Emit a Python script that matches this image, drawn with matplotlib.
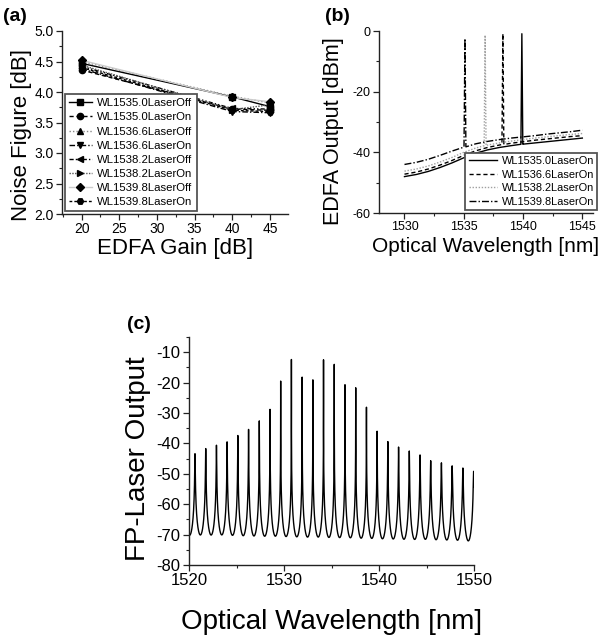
import numpy as np
import matplotlib
matplotlib.use("Agg")
import matplotlib.pyplot as plt
from matplotlib.ticker import MultipleLocator, FormatStrFormatter

plt.rcParams['font.family'] = ['Liberation Sans', 'DejaVu Sans']
plt.rcParams['axes.unicode_minus'] = False

# ---------------- (a) Noise figure ----------------
gain_db = [20, 40, 45]
nf_labels = ["WL1535.0LaserOff", "WL1535.0LaserOn", "WL1536.6LaserOff", "WL1536.6LaserOn",
             "WL1538.2LaserOff", "WL1538.2LaserOn", "WL1539.8LaserOff", "WL1539.8LaserOn"]
nf_1535_off = [4.47, 3.92, 3.76]
nf_1535_on = [4.36, 3.72, 3.70]
nf_1536_off = [4.50, 3.93, 3.82]
nf_1536_on = [4.38, 3.68, 3.66]
nf_1538_off = [4.42, 3.73, 3.72]
nf_1538_on = [4.44, 3.71, 3.79]
nf_1539_off = [4.52, 3.91, 3.84]
nf_1539_on = [4.40, 3.70, 3.68]
nf_series = [nf_1535_off, nf_1535_on, nf_1536_off, nf_1536_on,
             nf_1538_off, nf_1538_on, nf_1539_off, nf_1539_on]

# ---------------- (b) EDFA output spectra ----------------
edfa_wl = [1530, 1531, 1532, 1533, 1534, 1535, 1536, 1537, 1538, 1539, 1540, 1541, 1542, 1543, 1544, 1545]
edfa_labels = ["WL1535.0LaserOn", "WL1536.6LaserOn", "WL1538.2LaserOn", "WL1539.8LaserOn"]
base_solid = [-48.0, -47.3, -46.3, -45.0, -43.5, -41.8, -40.3, -39.2, -38.4, -37.8, -37.3, -36.9, -36.5, -36.1, -35.7, -35.3]
base_dash = [-47.2, -46.5, -45.5, -44.2, -42.7, -41.0, -39.5, -38.4, -37.6, -37.0, -36.5, -36.0, -35.6, -35.2, -34.8, -34.5]
base_dot = [-46.2, -45.5, -44.5, -43.2, -41.7, -40.0, -38.6, -37.6, -36.9, -36.3, -35.8, -35.3, -34.9, -34.5, -34.1, -33.8]
base_dashdot = [-44.0, -43.3, -42.3, -41.0, -39.6, -38.3, -37.2, -36.4, -35.8, -35.3, -34.9, -34.5, -34.0, -33.6, -33.2, -32.7]
spike_wl = [1539.9, 1538.3, 1536.8, 1535.1]
spike_db = [-0.9, -0.9, -1.4, -2.5]

# ---------------- (c) FP laser spectrum ----------------
fp_mode_wl = [1519.50, 1520.63, 1521.76, 1522.89, 1524.01, 1525.14, 1526.27, 1527.40, 1528.53,
              1529.65, 1530.78, 1531.91, 1533.04, 1534.16, 1535.29, 1536.42, 1537.55, 1538.68,
              1539.80, 1540.93, 1542.06, 1543.19, 1544.32, 1545.44, 1546.57, 1547.70, 1548.83, 1549.96]
fp_mode_db = [-45.0, -43.4, -41.7, -40.6, -39.5, -37.4, -35.4, -32.6, -28.8,
              -19.5, -12.4, -18.2, -19.1, -12.5, -14.0, -20.7, -21.7, -28.1,
              -36.0, -39.4, -41.2, -42.5, -43.8, -45.7, -46.4, -47.4, -48.1, -49.2]
fp_trough_db = [-69.6, -69.8, -69.9, -70.0, -70.0, -70.2, -70.3, -70.4, -70.5,
                -70.5, -70.6, -70.7, -70.8, -70.8, -70.9, -70.9, -71.0, -71.2,
                -71.3, -71.3, -71.4, -71.5, -71.5, -71.5, -71.6, -71.6, -71.6, -71.6]

fig = plt.figure(figsize=(6.02, 6.35), dpi=100)

def style_axes(ax, tick_size):
    for s in ['top', 'right']:
        ax.spines[s].set_visible(False)
    for s in ['left', 'bottom']:
        ax.spines[s].set_linewidth(1.0)
        ax.spines[s].set_color('#222222')
    ax.tick_params(which='major', direction='out', length=4, width=0.9, labelsize=tick_size, pad=2, colors='#222222', labelcolor='black')
    ax.tick_params(which='minor', direction='out', length=2, width=0.8, colors='#222222')

# ---- panel a ----
axa = fig.add_axes([62/602, 1-214/635, 226/602, 183/635])
styles_a = [
    dict(ls='-', color='black', marker='s'),
    dict(ls=(0, (3, 2)), color='black', marker='o'),
    dict(ls=(0, (1, 1.5)), color='#888888', marker='^'),
    dict(ls=(0, (4, 1.5, 1, 1.5)), color='black', marker='v'),
    dict(ls=(0, (3, 1.5, 1, 1.5, 1, 1.5)), color='black', marker='<'),
    dict(ls=(0, (1, 1)), color='#555555', marker='>'),
    dict(ls='-', color='#cccccc', marker='D'),
    dict(ls=(0, (2, 1.5)), color='black', marker='H'),
]
for vals, lab, st in zip(nf_series, nf_labels, styles_a):
    axa.plot(gain_db, vals, ls=st['ls'], color=st['color'], marker=st['marker'],
             ms=4.5 if st['marker'] != 'D' else 4, mfc='black', mec='black', lw=1.0, label=lab)
axa.set_xlim(17.4, 47.4)
axa.set_ylim(2.0, 5.0)
axa.xaxis.set_major_locator(MultipleLocator(5))
axa.xaxis.set_minor_locator(MultipleLocator(2.5))
axa.yaxis.set_major_locator(MultipleLocator(0.5))
axa.yaxis.set_minor_locator(MultipleLocator(0.25))
axa.yaxis.set_major_formatter(FormatStrFormatter('%.1f'))
style_axes(axa, 10)
axa.set_xlabel("EDFA Gain [dB]", fontsize=16, labelpad=1.5)
axa.set_ylabel("Noise Figure [dB]", fontsize=16, labelpad=2, y=0.43)
leg = axa.legend(loc='lower left', bbox_to_anchor=(0.013, 0.016), borderaxespad=0, fontsize=8.2,
                 handlelength=2.0, handletextpad=0.5, labelspacing=0.36, borderpad=0.35,
                 fancybox=False, framealpha=1, edgecolor='#555555')
leg.get_frame().set_linewidth(1.3)

# ---- panel b ----
axb = fig.add_axes([379/602, 1-213/635, 214/602, 182/635])
bases = [base_solid, base_dash, base_dot, base_dashdot]
styles_b = [
    dict(ls='-', color='black'),
    dict(ls=(0, (3, 2)), color='black'),
    dict(ls=(0, (1, 1.2)), color='#a0a0a0'),
    dict(ls=(0, (5, 1.5, 1, 1.5)), color='black'),
]
for base, swl, sdb, lab, st in zip(bases, spike_wl, spike_db, edfa_labels, styles_b):
    wl = np.array(edfa_wl, dtype=float)
    bv = np.array(base, dtype=float)
    b_at = np.interp(swl, wl, bv)
    left = wl < swl - 0.08
    right = wl > swl + 0.08
    xs = np.concatenate([wl[left], [swl - 0.08, swl, swl + 0.08], wl[right]])
    ys = np.concatenate([bv[left], [b_at, sdb, b_at], bv[right]])
    axb.plot(xs, ys, ls=st['ls'], color=st['color'], lw=1.0, label=lab)
axb.set_xlim(1527.85, 1545.9)
axb.set_ylim(-60, 0)
axb.xaxis.set_major_locator(MultipleLocator(5))
axb.xaxis.set_minor_locator(MultipleLocator(2.5))
axb.yaxis.set_major_locator(MultipleLocator(20))
axb.yaxis.set_minor_locator(MultipleLocator(10))
style_axes(axb, 9)
axb.set_xlabel("Optical Wavelength [nm]", fontsize=15, labelpad=3)
axb.set_ylabel("EDFA Output [dBm]", fontsize=15.5, labelpad=6, y=0.45)
legb = axb.legend(loc='lower right', bbox_to_anchor=(1.02, 0.016), borderaxespad=0, fontsize=7.9,
                  handlelength=2.6, handletextpad=0.4, labelspacing=0.32, borderpad=0.3,
                  fancybox=False, framealpha=1, edgecolor='#555555')
legb.get_frame().set_linewidth(1.3)

# ---- panel c ----
axc = fig.add_axes([189/602, 1-565/635, 285/602, 228/635])
mw = np.array(fp_mode_wl)
mp = 10 ** (np.array(fp_mode_db) / 10)
mt = 10 ** (np.array(fp_trough_db) / 10)
half = 0.5 * np.mean(np.diff(mw))
coef = mt * half ** 2 / 2.47
gam2 = coef / mp
lam = np.union1d(np.linspace(1520, 1550, 40001), mw[(mw >= 1520) & (mw <= 1550)])
spec = np.zeros_like(lam)
for a, g2, c in zip(mp, gam2, mw):
    spec += a / (1 + (lam - c) ** 2 / g2)
axc.plot(lam, 10 * np.log10(spec), color='black', lw=1.0)
axc.set_xlim(1520, 1550)
axc.set_ylim(-80, -5)
axc.xaxis.set_major_locator(MultipleLocator(10))
axc.xaxis.set_minor_locator(MultipleLocator(5))
axc.yaxis.set_major_locator(MultipleLocator(10))
axc.yaxis.set_minor_locator(MultipleLocator(5))
style_axes(axc, 12)
axc.set_xlabel("Optical Wavelength [nm]", fontsize=20, labelpad=15)
axc.set_ylabel("FP-Laser Output", fontsize=20, labelpad=4, y=0.465)

fig.text(3/602, 1-8/635, "(a)", fontsize=14, fontweight='bold', va='top', ha='left')
fig.text(325/602, 1-8/635, "(b)", fontsize=14, fontweight='bold', va='top', ha='left')
fig.text(127/602, 1-316/635, "(c)", fontsize=14, fontweight='bold', va='top', ha='left')

fig.savefig("out.png", dpi=100)
